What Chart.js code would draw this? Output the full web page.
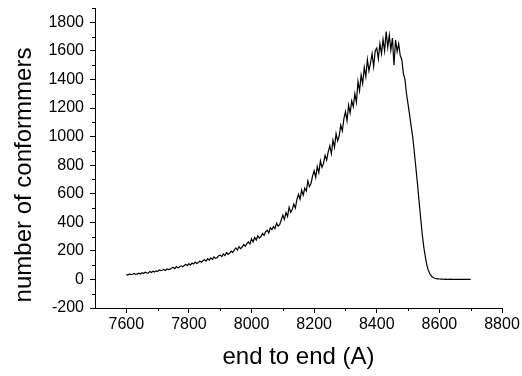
<!DOCTYPE html>
<html>
<head>
<meta charset="utf-8">
<script src="https://cdn.jsdelivr.net/npm/chart.js@4.4.0/dist/chart.umd.min.js"></script>
<style>
  html, body { margin: 0; padding: 0; background: #fff; }
  #wrap { width: 522px; height: 376px; }
</style>
</head>
<body>
<div id="wrap"><canvas id="chart"></canvas></div>
<script>
// sampling grid of the curve (end to end distance, A)
const xStart = 7600;
const xStep = 5;

// number of conformmers, every 5 A from 7600 to 8700
const counts = [
  35, 31, 38, 34, 36, 42, 35, 39, 44, 38,
  47, 41, 50, 46, 44, 55, 49, 57, 52, 60,
  56, 66, 61, 64, 70, 63, 74, 69, 72, 80,
  84, 76, 90, 82, 87, 95, 88, 97, 106, 96,
  110, 100, 115, 108, 121, 112, 118, 128, 120, 132,
  138, 128, 145, 135, 150, 140, 158, 148, 152, 166,
  170, 160, 178, 168, 188, 175, 184, 198, 190, 206,
  220, 205, 230, 216, 226, 244, 232, 250, 262, 248,
  285, 262, 294, 276, 306, 290, 300, 322, 308, 334,
  345, 325, 362, 348, 370, 356, 394, 372, 385, 418,
  450, 420, 468, 440, 505, 470, 490, 528, 500, 560,
  596, 562, 625, 590, 640, 618, 690, 650, 672, 725,
  760, 715, 790, 748, 830, 785, 812, 868, 835, 895,
  935, 880, 975, 925, 1020, 970, 1005, 1080, 1040, 1125,
  1175, 1110, 1220, 1165, 1250, 1210, 1300, 1240, 1385, 1320,
  1430, 1370, 1485, 1420, 1540, 1460, 1515, 1580, 1490, 1600,
  1620, 1545, 1650, 1580, 1680, 1600, 1735, 1625, 1710, 1605,
  1690, 1500, 1675, 1595, 1650, 1565, 1540, 1440, 1400, 1300,
  1225, 1150, 1070, 994, 890, 780, 670, 550, 435, 320,
  230, 160, 100, 62, 38, 22, 13, 8, 5, 4,
  3, 2, 3, 1, 2, 1, 1, 2, 0, 1,
  1, 0, 1, 0, 0, 1, 0, 0, 0, 0, 0
];

const xMajorTicks = [7600, 7800, 8000, 8200, 8400, 8600, 8800];
const xMinorTicks = [7700, 7900, 8100, 8300, 8500, 8700];
const yMajorTicks = [-200, 0, 200, 400, 600, 800, 1000, 1200, 1400, 1600, 1800];
const yMinorTicks = [-100, 100, 300, 500, 700, 900, 1100, 1300, 1500, 1700, 1900];

const points = counts.map((c, i) => ({ x: xStart + i * xStep, y: c }));

const FONT = '"Liberation Sans", Arial, sans-serif';

// short minor ticks + the y title (Origin puts it a bit below centre)
const extras = {
    id: 'extras',
    afterDraw(chart) {
        const { ctx, chartArea, scales } = chart;
        ctx.save();
        ctx.strokeStyle = '#000';
        ctx.lineWidth = 1;
        ctx.beginPath();
        xMinorTicks.forEach(v => {
            const px = Math.round(scales.x.getPixelForValue(v)) + 0.5;
            ctx.moveTo(px, chartArea.bottom);
            ctx.lineTo(px, chartArea.bottom + 3);
        });
        yMinorTicks.forEach(v => {
            const py = Math.round(scales.y.getPixelForValue(v)) + 0.5;
            ctx.moveTo(chartArea.left, py);
            ctx.lineTo(chartArea.left - 3, py);
        });
        ctx.stroke();

        ctx.fillStyle = '#000';
        ctx.font = '24px ' + FONT;
        ctx.textAlign = 'center';
        ctx.textBaseline = 'middle';
        ctx.translate(24, 175);
        ctx.rotate(-Math.PI / 2);
        ctx.fillText('number of conformmers', 0, 0);
        ctx.restore();
    }
};

new Chart(document.getElementById('chart'), {
    type: 'line',
    data: {
        datasets: [{
            data: points,
            borderColor: '#000',
            borderWidth: 1.2,
            pointRadius: 0,
            tension: 0,
            fill: false
        }]
    },
    options: {
        responsive: true,
        maintainAspectRatio: false,
        animation: false,
        layout: { padding: { left: 0, top: 8, right: 20, bottom: 0 } },
        plugins: { legend: { display: false }, tooltip: { enabled: false } },
        scales: {
            x: {
                type: 'linear',
                min: 7500,
                max: 8800,
                afterBuildTicks: s => { s.ticks = xMajorTicks.map(v => ({ value: v })); },
                afterFit: s => { s.height = 68; s.paddingLeft = 0; s.paddingRight = 0; },
                ticks: { color: '#000', font: { family: FONT, size: 16 }, padding: 2, maxRotation: 0, callback: v => String(v) },
                grid: { drawOnChartArea: false, drawTicks: true, tickLength: 5, color: '#000' },
                border: { display: true, color: '#000', width: 1 },
                title: {
                    display: true,
                    text: 'end to end (A)',
                    color: '#000',
                    font: { family: FONT, size: 24 },
                    padding: { top: 0, bottom: 4 }
                }
            },
            y: {
                min: -200,
                max: 1900,
                afterBuildTicks: s => { s.ticks = yMajorTicks.map(v => ({ value: v })); },
                afterFit: s => { s.width = 95; s.paddingTop = 0; s.paddingBottom = 0; },
                ticks: { color: '#000', font: { family: FONT, size: 16 }, padding: 6, callback: v => String(v) },
                grid: { drawOnChartArea: false, drawTicks: true, tickLength: 5, color: '#000' },
                border: { display: true, color: '#000', width: 1 }
            }
        }
    },
    plugins: [extras]
});
</script>
</body>
</html>
